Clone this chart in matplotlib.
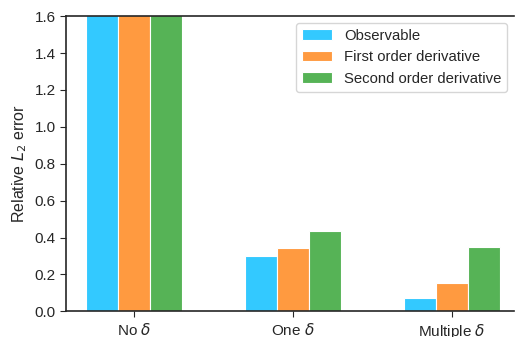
import matplotlib
matplotlib.use("Agg")
import matplotlib.pyplot as plt
import seaborn as sns
import numpy as np

sns.set_style("ticks")
plt.rcParams['font.family'] = ['Liberation Sans', 'DejaVu Sans']
plt.rcParams['mathtext.fontset'] = 'dejavusans'

# Data
cases = [r"No $\delta$", r"One $\delta$", r"Multiple $\delta$"]
observable = [1.95, 0.30, 0.075]
first_order = [2.05, 0.345, 0.155]
second_order = [2.20, 0.435, 0.35]

colors = ['#33c9ff', '#ff9a40', '#56b356']
labels = ['Observable', 'First order derivative', 'Second order derivative']

x = np.arange(len(cases))
width = 0.2

fig, ax = plt.subplots(figsize=(5.16, 3.37), dpi=100)
for k, vals in enumerate([observable, first_order, second_order]):
    ax.bar(x + (k - 1) * width, vals, width, color=colors[k], label=labels[k],
           edgecolor='white', linewidth=0.8, zorder=2)

ax.set_ylim(0, 1.6)
ax.set_xlim(-0.428, 2.39)
ax.set_yticks(np.arange(0, 1.61, 0.2))
ax.set_xticks(x)
ax.set_xticklabels(cases)
ax.set_ylabel(r"Relative $L_2$ error", fontsize=11.5, color='#262626')
ax.tick_params(labelsize=11, length=4, colors='#262626')
ax.spines['right'].set_visible(False)
for s in ['left', 'bottom', 'top']:
    ax.spines[s].set_color('#262626')
    ax.spines[s].set_linewidth(1.2)

leg = ax.legend(loc='upper right', fontsize=10.7, frameon=True, edgecolor='#cccccc',
                handlelength=2.0, borderaxespad=0.45)
for t in leg.get_texts():
    t.set_color('#262626')

fig.subplots_adjust(left=0.128, right=0.996, top=0.952, bottom=0.076)
fig.savefig("out.png", dpi=100)
